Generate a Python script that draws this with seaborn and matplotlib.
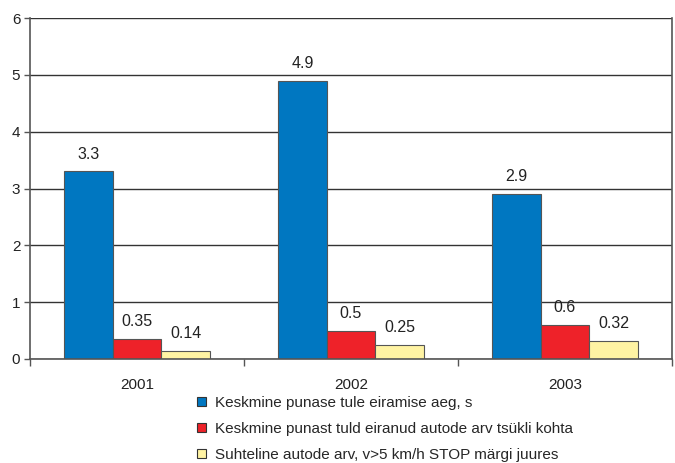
import matplotlib
matplotlib.use("Agg")
import matplotlib.pyplot as plt
import seaborn as sns
import pandas as pd
from matplotlib.patches import Patch

years = ["2001", "2002", "2003"]
series_names = [
    "Keskmine punase tule eiramise aeg, s",
    "Keskmine punast tuld eiranud autode arv tsükli kohta",
    "Suhteline autode arv, v>5 km/h STOP märgi juures",
]
red_time = [3.3, 4.9, 2.9]
red_cars = [0.35, 0.5, 0.6]
stop_share = [0.14, 0.25, 0.32]
colors = ["#0077c1", "#ee2229", "#fff3a3"]

rows = []
for name, vals in zip(series_names, [red_time, red_cars, stop_share]):
    for y, v in zip(years, vals):
        rows.append({"year": y, "series": name, "value": v})
df = pd.DataFrame(rows)

sns.set_theme(style="white")
plt.rcParams["font.family"] = ["Liberation Sans", "DejaVu Sans"]

fig = plt.figure(figsize=(6.75, 4.63), dpi=100)
ax = fig.add_axes([30 / 675, 1 - 359 / 463, 642 / 675, 341 / 463])

sns.barplot(data=df, x="year", y="value", hue="series", palette=colors,
            width=0.68, edgecolor="#555555", linewidth=0.8, ax=ax,
            legend=False, errorbar=None, saturation=1)

for container, vals in zip(ax.containers, [red_time, red_cars, stop_share]):
    labels = [f"{v:g}" for v in vals]
    ax.bar_label(container, labels=labels, padding=7, fontsize=11.5, color="#222222")

ax.set_ylim(0, 6)
ax.set_xlim(-0.5, 2.5)
ax.set_yticks(range(0, 7))
ax.yaxis.grid(True, color="#333333", linewidth=1.0)
ax.set_axisbelow(True)
ax.set_xlabel("")
ax.set_ylabel("")

for side in ["left", "right", "bottom"]:
    ax.spines[side].set_visible(True)
    ax.spines[side].set_color("#555555")
    ax.spines[side].set_linewidth(1.2)
ax.spines["top"].set_visible(False)

ax.tick_params(axis="y", which="major", left=True, length=4, width=1, color="#555555",
               labelsize=11, pad=3, labelcolor="#222222")
ax.tick_params(axis="x", which="major", bottom=False, labelsize=11, pad=8,
               labelcolor="#222222")
ax.set_xticks([-0.5, 0.5, 1.5, 2.5], minor=True)
ax.tick_params(axis="x", which="minor", bottom=True, length=5, width=1, color="#555555")

handles = [Patch(facecolor=c, edgecolor="#333333", linewidth=0.8) for c in colors]
fig.legend(handles, series_names, loc="upper left", bbox_to_anchor=(197 / 675, 1 - 396 / 463),
           frameon=False, fontsize=11, handlelength=0.6, handleheight=0.6,
           handletextpad=0.6, labelspacing=0.78, borderaxespad=0, borderpad=0)

fig.savefig("out.png", dpi=100)
